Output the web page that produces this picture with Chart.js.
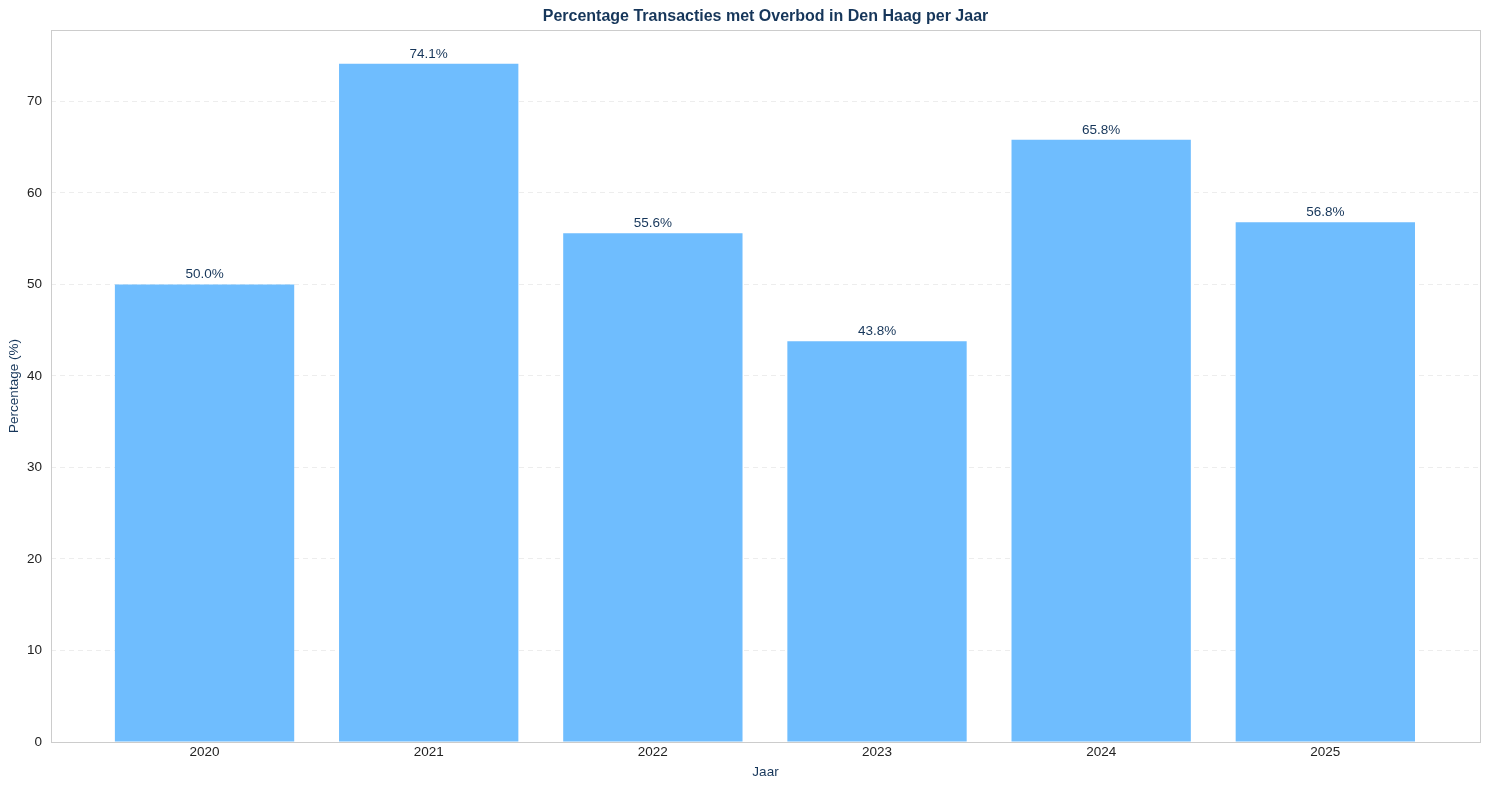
<!DOCTYPE html>
<html>
<head>
<meta charset="utf-8">
<script src="https://cdn.jsdelivr.net/npm/chart.js@4.4.1/dist/chart.umd.min.js"></script>
<style>
  html, body { margin: 0; padding: 0; background: #fff; }
  #wrap { width: 1489px; height: 790px; }
</style>
</head>
<body>
<div id="wrap"><canvas id="barChart" width="1489" height="790"></canvas></div>
<script>
// data
const years = ['2020', '2021', '2022', '2023', '2024', '2025'];
const overbodPct = [50.0, 74.1, 55.6, 43.8, 65.8, 56.8];
const yTicks = [0, 10, 20, 30, 40, 50, 60, 70];

const titleText = 'Percentage Transacties met Overbod in Den Haag per Jaar';
const navy = '#16365a';
const fontFamily = '"Liberation Sans", Arial, sans-serif';

// title on top + box around plot area
const framePlugin = {
    id: 'frame',
    afterDraw(chart) {
        const { ctx, chartArea } = chart;
        ctx.save();
        ctx.strokeStyle = '#cccccc';
        ctx.lineWidth = 1;
        ctx.strokeRect(chartArea.left + 0.5, chartArea.top + 0.5,
            chartArea.right - chartArea.left, chartArea.bottom - chartArea.top);
        ctx.fillStyle = navy;
        ctx.font = 'bold 16px ' + fontFamily;
        ctx.textAlign = 'center';
        ctx.textBaseline = 'middle';
        ctx.fillText(titleText, (chartArea.left + chartArea.right) / 2, 16.5);
        ctx.restore();
    }
};

// percentage labels above bars
const valueLabels = {
    id: 'valueLabels',
    afterDatasetsDraw(chart) {
        const { ctx } = chart;
        const meta = chart.getDatasetMeta(0);
        ctx.save();
        ctx.fillStyle = navy;
        ctx.font = '13.5px ' + fontFamily;
        ctx.textAlign = 'center';
        ctx.textBaseline = 'bottom';
        meta.data.forEach((bar, i) => {
            ctx.fillText(overbodPct[i].toFixed(1) + '%', bar.x, bar.y - 3);
        });
        ctx.restore();
    }
};

const ctx = document.getElementById('barChart').getContext('2d');

new Chart(ctx, {
    type: 'bar',
    data: {
        datasets: [
            {
                label: 'Overbod',
                data: overbodPct.map((v, i) => ({ x: i, y: v })),
                backgroundColor: '#6fbdfe',
                borderWidth: 0,
                barPercentage: 0.8,
                categoryPercentage: 1.0,
            },
        ],
    },
    options: {
        responsive: false,
        animation: false,
        devicePixelRatio: 1,
        layout: { padding: { top: 30, right: 9, bottom: 0, left: 0 } },
        plugins: {
            legend: { display: false },
            tooltip: { enabled: false },
        },
        scales: {
            x: {
                type: 'linear',
                offset: false,
                min: -0.685,
                max: 5.69,
                afterBuildTicks: (scale) => {
                    scale.ticks = years.map((y, i) => ({ value: i }));
                },
                afterFit: (scale) => { scale.height = 48; },
                grid: { display: false, drawTicks: false },
                border: { display: false },
                ticks: {
                    padding: 2,
                    color: '#222222',
                    font: { family: fontFamily, size: 13.5 },
                    callback: (value) => years[value],
                },
                title: {
                    display: true,
                    text: 'Jaar',
                    color: navy,
                    font: { family: fontFamily, size: 13.5 },
                    padding: { top: 0, bottom: 10 },
                },
            },
            y: {
                min: 0,
                max: 77.8,
                afterBuildTicks: (scale) => {
                    scale.ticks = yTicks.map((v) => ({ value: v }));
                },
                afterFit: (scale) => { scale.width = 51; },
                grid: {
                    color: '#e8e8e8',
                    lineWidth: 0.8,
                    drawTicks: false,
                },
                border: { display: false, dash: [5, 4] },
                ticks: {
                    padding: 9,
                    color: '#222222',
                    font: { family: fontFamily, size: 13.5 },
                },
                title: {
                    display: true,
                    text: 'Percentage (%)',
                    color: navy,
                    font: { family: fontFamily, size: 13.5 },
                    padding: { top: 6, bottom: 0 },
                },
            },
        },
    },
    plugins: [valueLabels, framePlugin],
});
</script>
</body>
</html>
